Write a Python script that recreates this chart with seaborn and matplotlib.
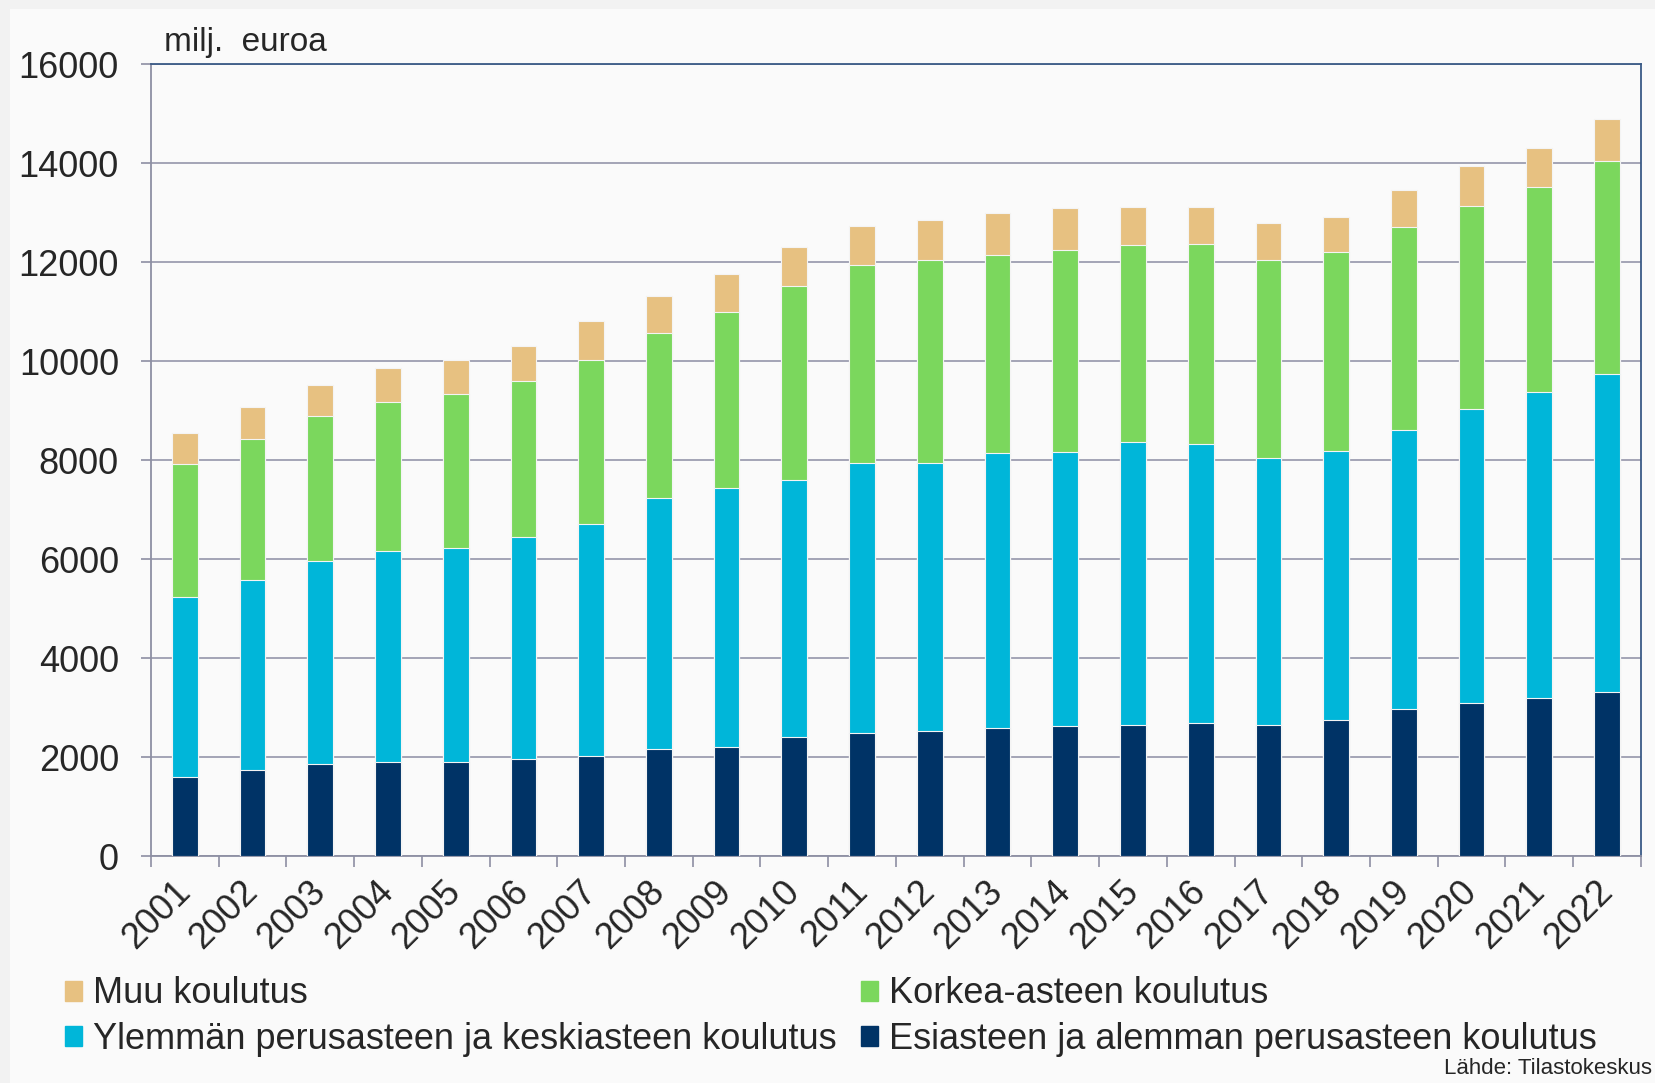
import pandas as pd
import numpy as np
import matplotlib.pyplot as plt
import matplotlib.patches as mpatches
import seaborn as sns

years = [str(y) for y in range(2001, 2023)]
esiaste = [1600, 1730, 1860, 1900, 1900, 1960, 2030, 2160, 2200, 2410, 2480,
           2520, 2580, 2620, 2650, 2690, 2650, 2750, 2970, 3090, 3200, 3310]
ylempi = [3630, 3840, 4100, 4270, 4330, 4480, 4670, 5080, 5230, 5180, 5460,
          5420, 5570, 5550, 5720, 5630, 5400, 5440, 5630, 5950, 6170, 6420]
korkea = [2690, 2860, 2920, 3010, 3110, 3160, 3330, 3330, 3560, 3930, 3990,
          4100, 3990, 4070, 3970, 4050, 3990, 4010, 4100, 4100, 4140, 4310]
muu = [620, 640, 640, 680, 690, 700, 770, 750, 770, 790, 790,
       810, 850, 850, 770, 750, 750, 700, 750, 790, 790, 850]

labels = ['Esiasteen ja alemman perusasteen koulutus',
          'Ylemmän perusasteen ja keskiasteen koulutus',
          'Korkea-asteen koulutus',
          'Muu koulutus']
colors = ['#003366', '#00b6d9', '#7bd75d', '#e7c181']

df = pd.DataFrame({'vuosi': years, labels[0]: esiaste, labels[1]: ylempi,
                   labels[2]: korkea, labels[3]: muu})
cum = df[labels].cumsum(axis=1)

sns.set_style('white')
plt.rcParams['font.family'] = ['Liberation Sans', 'DejaVu Sans']

fig = plt.figure(figsize=(16.55, 10.83), dpi=100)
fig.patch.set_facecolor('#f2f2f2')
fig.patches.append(mpatches.Rectangle((10 / 1655, 0), 1, 1 - 9 / 1083,
                                      transform=fig.transFigure,
                                      facecolor='#fafafa', edgecolor='none',
                                      zorder=-10))
ax = fig.add_axes([0.0912, 0.2096, 0.9003, 0.7313])
ax.set_facecolor('#fafafa')

# stacked bars: draw cumulative tops from largest down
for lab, col in zip(labels[::-1], colors[::-1]):
    sns.barplot(x=df['vuosi'], y=cum[lab], color=col, width=0.38,
                edgecolor='#f4f4f4', linewidth=0.8, saturation=1, ax=ax,
                zorder=3)

ax.set_xlim(-0.5, len(years) - 0.5)
ax.set_ylim(0, 16000)
ax.set_yticks(range(0, 16001, 2000))
ax.tick_params(axis='y', labelsize=26, length=7, width=1.2, color='#8d8fa3',
               left=True, pad=16)
ax.grid(axis='y', color='#9c9eb0', linewidth=1.3, zorder=0)
ax.set_axisbelow(True)

ax.set_xticks(range(len(years)))
ax.set_xticklabels(years, rotation=45, ha='right', va='center',
                   rotation_mode='anchor', fontsize=26)
ax.tick_params(axis='x', length=0, pad=22)
ax.set_xticks(np.arange(-0.5, len(years)), minor=True)
ax.tick_params(axis='x', which='minor', length=8, width=1.2, color='#8d8fa3',
               bottom=True)
ax.set_xlabel('')
ax.set_ylabel('')

for side in ['left', 'bottom']:
    ax.spines[side].set_color('#8d8fa3')
    ax.spines[side].set_linewidth(1.3)
for side in ['top', 'right']:
    ax.spines[side].set_visible(True)
    ax.spines[side].set_color('#3a5a86')
    ax.spines[side].set_linewidth(1.3)

fig.text(164 / 1655, 1 - 43 / 1083, 'milj.  euroa', fontsize=24,
         va='center', ha='left')

order = [3, 1, 2, 0]
handles = [mpatches.Patch(color=colors[i]) for i in order]
fig.legend(handles, [labels[i] for i in order], ncol=2, loc='upper left',
           bbox_to_anchor=(51 / 1655, 1 - 962 / 1083), frameon=False,
           fontsize=26, handlelength=0.47, handleheight=0.47,
           handletextpad=0.28, columnspacing=0.7, labelspacing=0.28,
           borderaxespad=0)

fig.text(1652 / 1655, 1 - 1069 / 1083, 'Lähde: Tilastokeskus', fontsize=16,
         ha='right', va='center')

fig.savefig('out.png', dpi=100, facecolor=fig.get_facecolor())
